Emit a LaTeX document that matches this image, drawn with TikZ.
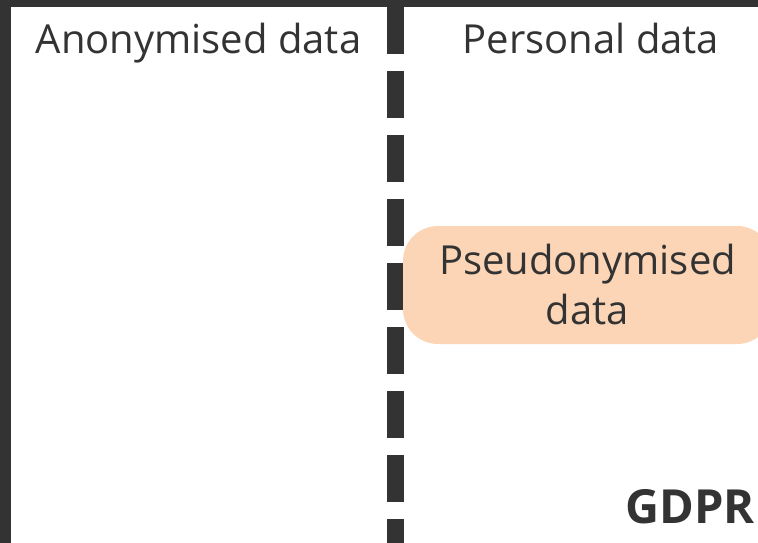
\documentclass[tikz,border=0pt]{standalone}
\usepackage{fontspec}
\setmainfont{Open Sans}
\definecolor{ink}{HTML}{333333}
\definecolor{peach}{HTML}{FBD5B5}
\tikzset{
  header/.style={text=ink, inner sep=0pt, anchor=base, font=\fontsize{40}{48}\selectfont},
  pseudotext/.style={text=ink, inner sep=0pt, align=center, font=\fontsize{40}{50}\selectfont},
  gdprtext/.style={text=ink, inner sep=0pt, anchor=base east, font=\fontsize{47}{56}\selectfont\bfseries},
  divider/.style={draw=ink, line width=17pt, dash pattern=on 47pt off 17pt},
  bar/.style={fill=ink},
  pseudobox/.style={fill=peach, rounded corners=35pt}
}
\begin{document}
\begin{tikzpicture}[x=1pt,y=-1pt]
\useasboundingbox (0,0) rectangle (758,543);
\clip (0,0) rectangle (758,543);
\fill[white] (0,0) rectangle (758,543);
% frame bars
\fill[bar] (0,0) rectangle (758,7);
\fill[bar] (0,0) rectangle (11,543);
% divider
\coordinate (divtop) at (395,7);
\coordinate (divbot) at (395,560);
\draw[divider] (divtop) -- (divbot);
% pseudonymised box
\fill[pseudobox] (403,226) rectangle (772,344);
\node[pseudotext] (pseudo) at (587.5,284) {Pseudonymised\\data};
% headers
\node[header] (anon) at (198.5,54) {Anonymised data};
\node[header] (pers) at (591,54) {Personal data};
% GDPR
\node[gdprtext] (gdpr) at (755,523) {GDPR};
\end{tikzpicture}
\end{document}
